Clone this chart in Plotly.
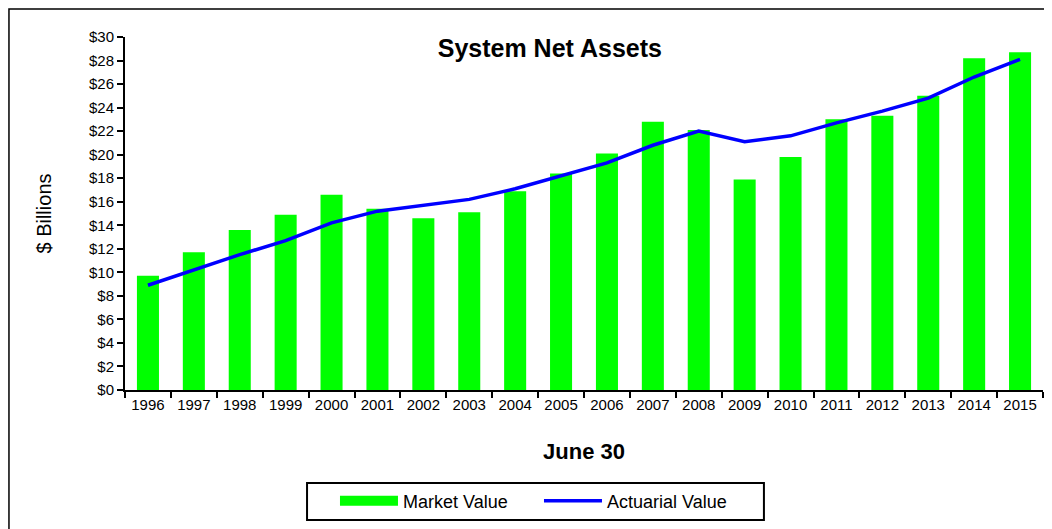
import plotly.graph_objects as go

# data ($ billions, June 30)
years = [str(y) for y in range(1996, 2016)]
market_value = [9.7, 11.7, 13.6, 14.9, 16.6, 15.4, 14.6, 15.1, 16.9, 18.4,
                20.1, 22.8, 22.1, 17.9, 19.8, 23.0, 23.3, 25.0, 28.2, 28.7]
actuarial_value = [8.9, 10.2, 11.5, 12.7, 14.2, 15.2, 15.7, 16.2, 17.1, 18.2,
                   19.3, 20.8, 22.0, 21.1, 21.6, 22.7, 23.7, 24.8, 26.6, 28.1]
y_ticks = list(range(0, 31, 2))
y_tick_labels = [f"${v}" for v in y_ticks]

FONT = "Liberation Sans, Arial, sans-serif"

fig = go.Figure()
fig.add_trace(go.Bar(
    x=years, y=market_value, name="Market Value",
    marker=dict(color="#00FF00", line=dict(width=0)),
    width=0.48, showlegend=False
))
fig.add_trace(go.Scatter(
    x=years, y=actuarial_value, name="Actuarial Value",
    mode="lines", line=dict(color="#0000FF", width=3.5), showlegend=False
))
# legend keys (wide green block + blue line, as in the original)
fig.add_trace(go.Scatter(
    x=[None], y=[None], name="Market Value", mode="lines",
    line=dict(color="#00FF00", width=12)
))
fig.add_trace(go.Scatter(
    x=[None], y=[None], name="Actuarial Value", mode="lines",
    line=dict(color="#0000FF", width=3.5)
))

fig.update_layout(
    width=1044, height=521,
    margin=dict(l=117, r=9, t=29, b=139, autoexpand=False),
    paper_bgcolor="white", plot_bgcolor="white",
    font=dict(family=FONT, color="black", size=12),
    title=dict(text="<b>System Net Assets</b>", font=dict(size=25),
               x=0.519, xanchor="center", y=0.923, yanchor="middle"),
    showlegend=True,
    legend=dict(orientation="h", xref="container", yref="container",
                x=0.3132, xanchor="left", y=0.0537, yanchor="middle",
                borderwidth=0, bgcolor="rgba(0,0,0,0)", font=dict(size=18),
                entrywidth=131, itemwidth=58, traceorder="normal"),
    shapes=[
        dict(type="rect", xref="paper", yref="paper",
             x0=-0.1264, x1=1.05, y0=-0.6, y1=1.079,
             line=dict(color="black", width=1.5)),
        dict(type="rect", xref="paper", yref="paper",
             x0=0.1983, x1=0.696, y0=-0.368, y1=-0.2635,
             line=dict(color="black", width=2)),
    ],
)

fig.update_xaxes(
    type="category", showline=True, linecolor="black", linewidth=2,
    ticks="outside", tickson="boundaries", ticklen=6, tickcolor="black", tickwidth=2,
    showgrid=False, tickfont=dict(size=15), automargin=False,
    title=dict(text="<b>June 30</b>", font=dict(size=22), standoff=32),
)
fig.update_yaxes(
    range=[0, 30], tickvals=y_ticks, ticktext=y_tick_labels,
    showline=True, linecolor="black", linewidth=2,
    ticks="outside", ticklen=6, tickcolor="black", tickwidth=2,
    showgrid=False, zeroline=False, tickfont=dict(size=15), automargin=False,
    title=dict(text="$ Billions", font=dict(size=20), standoff=32),
)

fig.write_html("out.html")
